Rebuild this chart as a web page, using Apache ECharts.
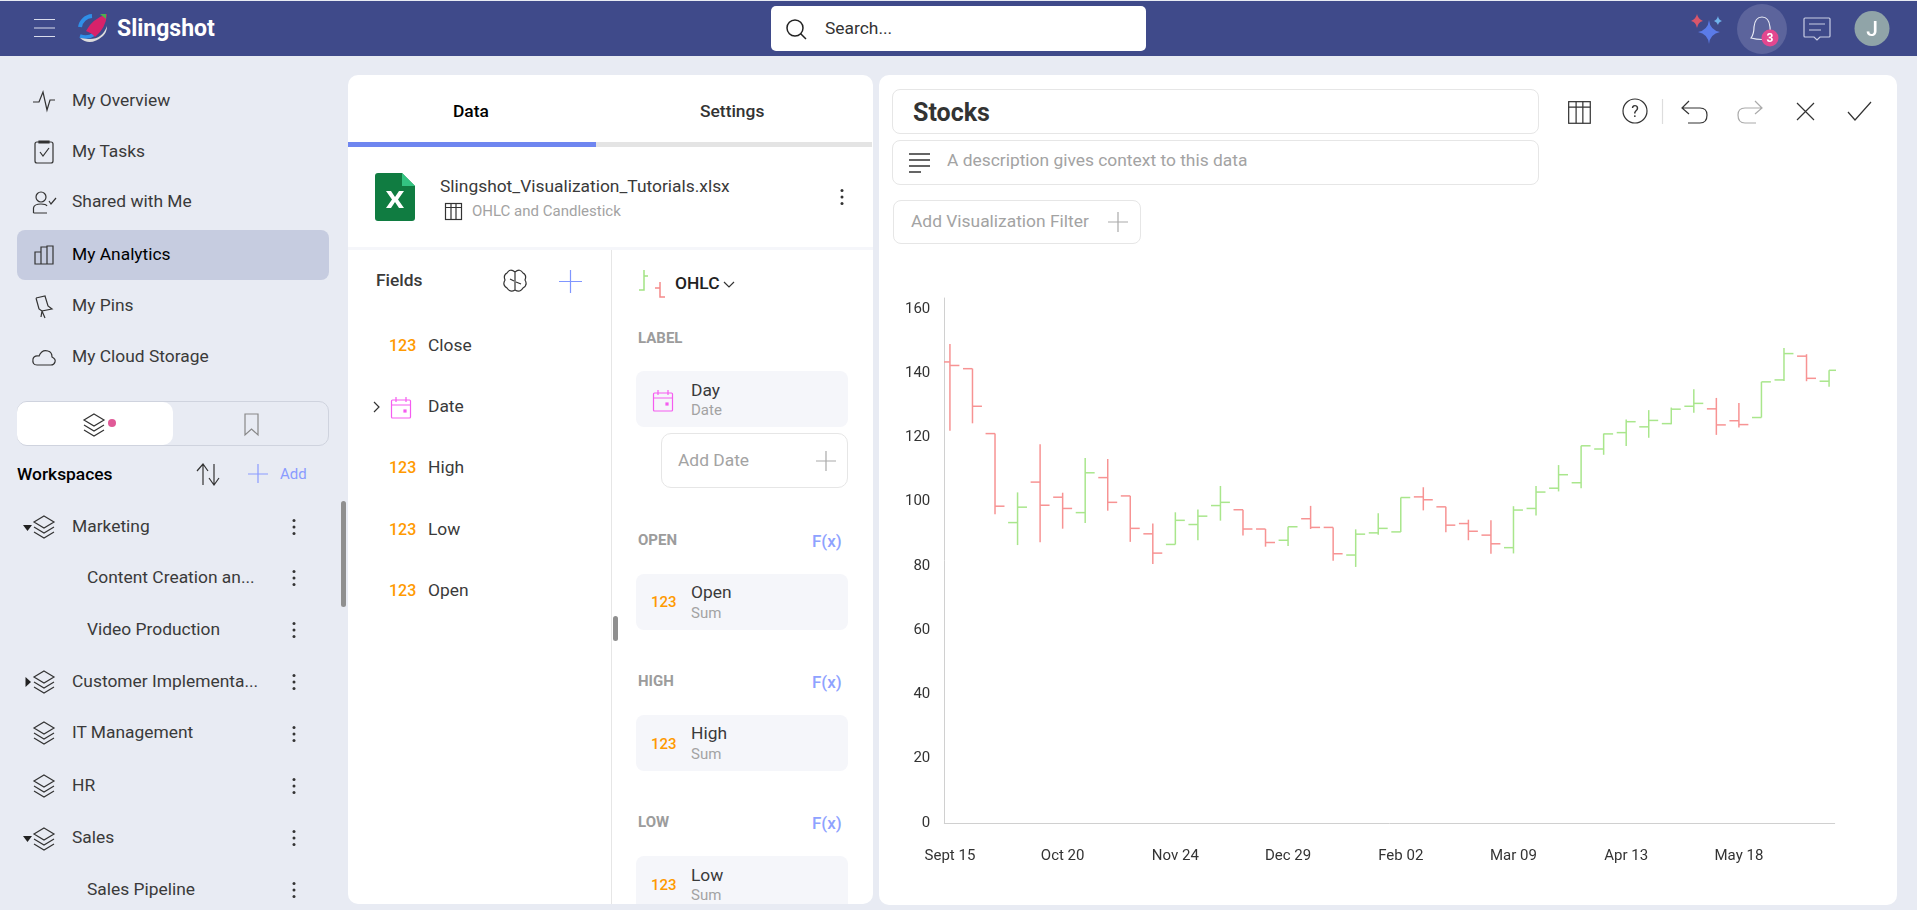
<!DOCTYPE html>
<html>
<head>
<meta charset="utf-8">
<title>Stocks</title>
<script src="https://cdn.jsdelivr.net/npm/echarts@6/dist/echarts.min.js"></script>
<style>
html, body { margin: 0; padding: 0; width: 1917px; height: 910px; overflow: hidden; background: #e8ebf3; }
body { position: relative; font-family: Roboto, sans-serif; font-size: 17.4px; color: #3a3a3a; }
.box { position: absolute; box-sizing: border-box; }
.t { position: absolute; white-space: nowrap; transform: translateY(-50%); line-height: 1; }
.m { font-weight: 500; }
.g { color: #a3a3a3; }
.s { font-size: 15px; }
.n { color: #ff9a00; font-weight: 500; font-size: 16px; }
.cap { color: #9c9c9c; font-weight: 700; font-size: 15px; }
.fx { color: #8ea2ff; font-weight: 500; font-size: 17px; }
.field { background: #f5f6fa; border-radius: 8px; left: 636px; width: 212px; }
.input { border: 1px solid #e6e6e6; border-radius: 8px; background: #fff; }
svg { position: absolute; left: 0; top: 0; pointer-events: none; }
#chart { position: absolute; left: 880px; top: 250px; width: 1000px; height: 650px; }
</style>
</head>
<body>

<div class="box" style="left:0;top:1px;width:1917px;height:55px;background:#3f4a8a"></div>
<div class="box" style="left:771px;top:6px;width:375px;height:45px;background:#fff;border-radius:5px"></div>
<div class="box" style="left:17px;top:230px;width:312px;height:50px;background:#c6cce0;border-radius:8px"></div>
<div class="box" style="left:17px;top:401px;width:312px;height:45px;border:1px solid #cfd3de;border-radius:10px"></div>
<div class="box" style="left:17px;top:402px;width:156px;height:43px;background:#fff;border-radius:10px"></div>
<div class="box" style="left:341px;top:501px;width:5px;height:106px;background:#8f8f8f;border-radius:3px"></div>

<div class="box" style="left:348px;top:75px;width:525px;height:829px;background:#fff;border-radius:10px"></div>
<div class="box" style="left:348px;top:142px;width:524px;height:5px;background:#e4e4e4"></div>
<div class="box" style="left:348px;top:142px;width:248px;height:5px;background:#6f86f0"></div>
<div class="box" style="left:348px;top:247px;width:525px;height:3px;background:#f5f6fa"></div>
<div class="box" style="left:611px;top:250px;width:1px;height:654px;background:#e6e6e6"></div>
<div class="box" style="left:613px;top:616px;width:5px;height:25px;background:#8f8f8f;border-radius:3px"></div>
<div class="box field" style="top:371px;height:56px"></div>
<div class="box input" style="left:661px;top:433px;width:187px;height:55px;border-radius:10px"></div>
<div class="box field" style="top:574px;height:56px"></div>
<div class="box field" style="top:715px;height:56px"></div>
<div class="box field" style="top:856px;height:48px;border-radius:8px 8px 0 0"></div>

<div class="box" style="left:879px;top:75px;width:1018px;height:830px;background:#fff;border-radius:10px"></div>
<div class="box input" style="left:892px;top:89px;width:647px;height:45px"></div>
<div class="box input" style="left:892px;top:140px;width:647px;height:45px"></div>
<div class="box input" style="left:893px;top:200px;width:248px;height:44px"></div>

<span class="t" style="left:825px;top:29px;color:#333">Search...</span>
<span class="t" style="left:117px;top:28px;color:#fff;font-size:23px;font-weight:700">Slingshot</span>

<span class="t" style="left:72px;top:101px">My Overview</span>
<span class="t" style="left:72px;top:152px">My Tasks</span>
<span class="t" style="left:72px;top:202px">Shared with Me</span>
<span class="t" style="left:72px;top:255px;color:#000">My Analytics</span>
<span class="t" style="left:72px;top:306px">My Pins</span>
<span class="t" style="left:72px;top:357px">My Cloud Storage</span>

<span class="t m" style="left:17px;top:475px;color:#000">Workspaces</span>
<span class="t s" style="left:280px;top:474px;color:#8a9bff">Add</span>
<span class="t" style="left:72px;top:527px">Marketing</span>
<span class="t" style="left:87px;top:578px">Content Creation an...</span>
<span class="t" style="left:87px;top:630px">Video Production</span>
<span class="t" style="left:72px;top:682px">Customer Implementa...</span>
<span class="t" style="left:72px;top:733px">IT Management</span>
<span class="t" style="left:72px;top:786px">HR</span>
<span class="t" style="left:72px;top:838px">Sales</span>
<span class="t" style="left:87px;top:890px">Sales Pipeline</span>

<span class="t m" style="left:453px;top:112px;color:#000">Data</span>
<span class="t m" style="left:700px;top:112px;color:#333">Settings</span>
<span class="t" style="left:440px;top:187px">Slingshot_Visualization_Tutorials.xlsx</span>
<span class="t s g" style="left:472px;top:211px">OHLC and Candlestick</span>
<span class="t m" style="left:376px;top:281px">Fields</span>
<span class="t n" style="left:389px;top:346px">123</span><span class="t" style="left:428px;top:346px">Close</span>
<span class="t" style="left:428px;top:407px">Date</span>
<span class="t n" style="left:389px;top:468px">123</span><span class="t" style="left:428px;top:468px">High</span>
<span class="t n" style="left:389px;top:530px">123</span><span class="t" style="left:428px;top:530px">Low</span>
<span class="t n" style="left:389px;top:591px">123</span><span class="t" style="left:428px;top:591px">Open</span>

<span class="t m" style="left:675px;top:284px;color:#222">OHLC</span>
<span class="t cap" style="left:638px;top:338px">LABEL</span>
<span class="t" style="left:691px;top:391px">Day</span>
<span class="t s g" style="left:691px;top:410px">Date</span>
<span class="t g" style="left:678px;top:461px">Add Date</span>
<span class="t cap" style="left:638px;top:540px">OPEN</span><span class="t fx" style="left:812px;top:541px">F(x)</span>
<span class="t n" style="left:651px;top:602px;font-size:15px">123</span><span class="t" style="left:691px;top:593px">Open</span><span class="t s g" style="left:691px;top:613px">Sum</span>
<span class="t cap" style="left:638px;top:681px">HIGH</span><span class="t fx" style="left:812px;top:682px">F(x)</span>
<span class="t n" style="left:651px;top:744px;font-size:15px">123</span><span class="t" style="left:691px;top:734px">High</span><span class="t s g" style="left:691px;top:754px">Sum</span>
<span class="t cap" style="left:638px;top:822px">LOW</span><span class="t fx" style="left:812px;top:823px">F(x)</span>
<span class="t n" style="left:651px;top:885px;font-size:15px">123</span><span class="t" style="left:691px;top:876px">Low</span><span class="t s g" style="left:691px;top:895px">Sum</span>

<span class="t" style="left:913px;top:112px;font-size:25px;font-weight:700;color:#333">Stocks</span>
<span class="t g" style="left:947px;top:161px">A description gives context to this data</span>
<span class="t g" style="left:911px;top:222px">Add Visualization Filter</span>

<div id="chart"></div>

<svg width="1917" height="910" viewBox="0 0 1917 910" fill="none" stroke="#333" stroke-width="1.2">
  <defs>
    <g id="layers"><path d="M11 0L21 6L11 12L1 6Z M1 11L11 17L21 11 M1 16L11 22L21 16"/></g>
    <g id="dots" fill="#333" stroke="none"><circle cx="0" cy="-6.5" r="1.5"/><circle cx="0" cy="0" r="1.5"/><circle cx="0" cy="6.5" r="1.5"/></g>
    <g id="cal" stroke="#f55cf0"><rect x="0.5" y="3" width="19" height="18" rx="1"/><path d="M0.5 8H19.5M5 0V5M15 0V5"/><rect x="13" y="13" width="2" height="2" fill="#f55cf0"/></g>
    <g id="grid"><rect x="0.5" y="0.5" width="16" height="16"/><path d="M0.5 4.5H16.5M6 0.5V16.5M11 0.5V16.5"/></g>
  </defs>

  <!-- top bar -->
  <path d="M34 19.5H55M34 28H55M34 36.5H55" stroke="#d9dcec"/>
  <path d="M92 16A13 13 0 0 0 80 27" stroke="#2f8fe8" stroke-width="4"/>
  <path d="M80 36Q92 40 100 28" stroke="#2f8fe8" stroke-width="3.500"/>
  <path d="M80 38Q90 47 103 36Q107 32 107 26Q102 40 88 39Z" fill="#dcdcdc" stroke="none"/>
  <path d="M86 31Q92 19 107 14Q106 28 95 37Q92 33 86 31Z" fill="#d8226a" stroke="none"/>
  <path d="M100 14L106 14L106 19Z" fill="#4caf50" stroke="none"/>
  <circle cx="799" cy="28" r="8" stroke="#222" stroke-width="1.5" transform="translate(-4 0)"/><path d="M800.500 33.500L806 39" stroke="#222" stroke-width="1.5"/>
  <path d="M1709 20Q1710 30 1720 32Q1710 34 1709 44Q1708 34 1698 32Q1708 30 1709 20Z" fill="#5b7be8" stroke="none"/>
  <path d="M1697 14Q1698 19 1703 21Q1698 22 1697 28Q1696 22 1691 21Q1696 19 1697 14Z" fill="#d9566a" stroke="none"/>
  <path d="M1718 16Q1718.500 20 1722 21Q1718.500 22 1718 25Q1717 22 1714 21Q1717 20 1718 16Z" fill="#6fb2ea" stroke="none"/>
  <circle cx="1762" cy="29" r="25" fill="#5c649c" stroke="none"/>
  <path d="M1751 38Q1754 34 1754 27Q1755 17 1762 17Q1769 17 1770 27Q1770 34 1773 38Q1762 41 1751 38Z" stroke="#e8eaf4"/>
  <circle cx="1770" cy="38" r="8.500" fill="#e2478f" stroke="none"/>
  <text x="1770" y="42" text-anchor="middle" font-family="Roboto" font-size="12" font-weight="700" fill="#fff" stroke="none">3</text>
  <path d="M1805 18H1829Q1830 18 1830 19V36Q1830 37 1829 37H1820L1817 40L1814 37H1805Q1804 37 1804 36V19Q1804 18 1805 18Z" stroke="#c9cde4"/>
  <path d="M1809 24H1825M1809 30H1821" stroke="#c9cde4"/>
  <circle cx="1872" cy="28.500" r="17.500" fill="#90a4a8" stroke="none"/>
  <text x="1872" y="36" text-anchor="middle" font-family="Roboto" font-size="21" font-weight="500" fill="#fff" stroke="none">J</text>

  <!-- side nav -->
  <path d="M33 102H39L43 92L47 110L50 100H55"/>
  <rect x="35" y="142" width="18" height="21" rx="2"/><path d="M39 141H49V143H39Z" fill="#333"/><path d="M40 152L43 156L49 148"/>
  <circle cx="41" cy="197" r="5"/><path d="M33.500 213V208Q34 204 41 204Q46 204 47 206M33.500 213H47"/><path d="M49 201L51 204L56 198"/>
  <path d="M35 264V252H41V264ZM41 264V247H47M47 264V246H53V264ZM35 264H53"/>
  <path d="M36 298L45 296L48 306L52 309L42 311L41 317M36 298L39 309L42 311M45 318L42 311"/>
  <path d="M37 365Q32 365 33 359Q34 355 39 356Q42 349 48 351Q52 352 52 357Q56 359 55 362Q54 365 51 365Z"/>
  <use href="#layers" x="83" y="414"/>
  <circle cx="112" cy="423" r="4" fill="#e05a97" stroke="none"/>
  <path d="M245 414H258V435L251.500 429L245 435Z" stroke="#888"/>
  <path d="M203 485V465M197 471L203 464L208 471M214 464V484M209 478L214 485L219 478"/>
  <path d="M248 474H268M258 464V483" stroke="#8a9bff"/>
  <use href="#layers" x="33" y="516"/><path d="M23 525H32L27.500 531Z" fill="#222" stroke="none"/>
  <use href="#layers" x="33" y="671"/><path d="M25.500 677V687L31 682Z" fill="#222" stroke="none"/>
  <use href="#layers" x="33" y="722"/>
  <use href="#layers" x="33" y="775"/>
  <use href="#layers" x="33" y="828"/><path d="M23 836H32L27.500 842Z" fill="#222" stroke="none"/>
  <use href="#dots" x="294" y="527"/><use href="#dots" x="294" y="578"/><use href="#dots" x="294" y="630"/>
  <use href="#dots" x="294" y="682"/><use href="#dots" x="294" y="734"/><use href="#dots" x="294" y="786"/>
  <use href="#dots" x="294" y="838"/><use href="#dots" x="294" y="890"/>

  <!-- data panel -->
  <path d="M378 173H402L415 186V218Q415 221 412 221H378Q375 221 375 218V176Q375 173 378 173Z" fill="#107c41" stroke="none"/>
  <path d="M402 173L415 186H402Z" fill="#33c481" stroke="none"/>
  <path d="M386 191H391L395 197L399 191H404L398 199.500L404 208H399L395 202L391 208H386L392 199.500Z" fill="#fff" stroke="none"/>
  <use href="#grid" x="445" y="203"/>
  <use href="#dots" x="842" y="197"/>
  <path d="M515 272Q510 268 507 273Q503 275 505 280Q502 285 507 288Q510 293 515 290Q520 293 523 288Q528 285 525 280Q527 275 523 273Q520 268 515 272ZM515 272V290M510 279L514 281M521 284L516 282"/>
  <path d="M559 281.500H582M570.500 270V293" stroke="#8096ff"/>
  <path d="M374 402L379 407L374 412"/>
  <use href="#cal" x="391" y="397"/>
  <path d="M644 270V290H639M644 276H648" stroke="#a3e384" stroke-width="1.500"/>
  <path d="M660 282V297H665M660 288H655" stroke="#f58a8a" stroke-width="1.500"/>
  <path d="M724 282L729 287L734 282"/>
  <use href="#cal" x="653" y="390"/>
  <path d="M816 461H836M826 451V471" stroke="#aaa"/>

  <!-- chart toolbar -->
  <use href="#grid" transform="translate(1568 101) scale(1.350)" stroke-width="0.900"/>
  <circle cx="1635" cy="111" r="12"/>
  <text x="1635" y="117" text-anchor="middle" font-family="Roboto" font-size="16" fill="#333" stroke="none">?</text>
  <path d="M1662.500 99V124" stroke="#ddd"/>
  <path d="M1689 101L1682 108L1689 114M1682 108H1700Q1707 108 1707 115Q1707 123 1700 123H1688"/>
  <path d="M1755 101L1762 108L1755 114M1762 108H1745Q1738 108 1738 115Q1738 123 1745 123H1756" stroke="#aaa"/>
  <path d="M1797 103L1814 120M1814 103L1797 120"/>
  <path d="M1848 112L1855 120L1871 102"/>
  <path d="M909 154H930M909 160H930M909 166H930M909 172H921" stroke-width="1.400"/>
  <path d="M1108 222H1128M1118 212V232" stroke="#aaa"/>
</svg>

<script>
// weekly dates, only every 5th one is printed on the axis
const dates = [
    'Sept 15', 'Sept 22', 'Sept 29', 'Oct 06', 'Oct 13', 'Oct 20', 'Oct 27', 'Nov 03', 'Nov 10', 'Nov 17',
    'Nov 24', 'Dec 01', 'Dec 08', 'Dec 15', 'Dec 22', 'Dec 29', 'Jan 05', 'Jan 12', 'Jan 19', 'Jan 26',
    'Feb 02', 'Feb 09', 'Feb 16', 'Feb 23', 'Mar 02', 'Mar 09', 'Mar 16', 'Mar 23', 'Mar 30', 'Apr 06',
    'Apr 13', 'Apr 20', 'Apr 27', 'May 04', 'May 11', 'May 18', 'May 25', 'Jun 01', 'Jun 08', 'Jun 15'
];
const open = [
    143.5, 141.4, 121.2, 93.5, 106.1, 101.4, 96.6, 107.5, 101.8, 90.0,
    86.7, 92.9, 98.8, 97.5, 91.5, 88.0, 94.7, 92.0, 83.4, 90.3,
    90.6, 101.5, 98.4, 93.2, 89.6, 85.7, 97.9, 104.2, 105.9, 116.4,
    121.5, 123.3, 124.3, 129.7, 128.9, 125.2, 126.2, 137.9, 145.3, 137.5
];
const high = [
    149.1, 141.4, 121.2, 102.9, 117.9, 102.8, 113.6, 113.3, 101.8, 93.2,
    96.7, 97.6, 104.9, 97.5, 91.5, 92.2, 98.7, 92.0, 91.4, 96.4,
    101.3, 104.5, 98.4, 94.4, 94.2, 98.6, 104.9, 111.4, 117.4, 121.2,
    125.6, 128.5, 129.3, 135.0, 132.3, 130.7, 137.3, 147.8, 145.9, 140.9
];
const low = [
    122.1, 124.4, 96.1, 86.5, 87.4, 91.6, 93.4, 97.2, 87.5, 80.6,
    86.7, 88.0, 94.1, 89.5, 86.0, 86.2, 91.5, 81.6, 79.7, 89.7,
    90.6, 97.3, 90.5, 88.0, 83.8, 83.9, 95.7, 103.2, 104.2, 114.6,
    117.3, 119.9, 124.1, 127.7, 120.8, 123.1, 126.2, 137.6, 137.5, 135.8
];
const close = [
    142.4, 129.7, 98.6, 98.3, 98.9, 97.9, 109.0, 99.8, 91.7, 84.0,
    94.2, 95.5, 99.8, 91.5, 87.3, 92.2, 92.0, 83.8, 89.9, 91.7,
    101.3, 100.6, 92.7, 90.8, 86.9, 97.4, 103.0, 108.4, 117.4, 121.1,
    124.9, 125.3, 128.8, 130.6, 123.9, 124.0, 137.3, 146.1, 138.4, 140.9
];
const tickIndexes = [0, 5, 10, 15, 20, 25, 30, 35];

const upColor = '#a9e68c';
const downColor = '#f79393';

const renderOhlc = (params, api) => {
    const i = api.value(0);
    const color = api.value(4) >= api.value(1) ? upColor : downColor;
    const tick = api.size([1, 0])[0] * 0.42;
    const o = api.coord([i, api.value(1)]);
    const h = api.coord([i, api.value(2)]);
    const l = api.coord([i, api.value(3)]);
    const c = api.coord([i, api.value(4)]);
    const style = {stroke: color, lineWidth: 1.5};
    return {
        type: 'group',
        children: [
            {type: 'line', shape: {x1: h[0], y1: h[1], x2: l[0], y2: l[1]}, style: style},
            {type: 'line', shape: {x1: o[0] - tick, y1: o[1], x2: o[0], y2: o[1]}, style: style},
            {type: 'line', shape: {x1: c[0], y1: c[1], x2: c[0] + tick, y2: c[1]}, style: style}
        ]
    };
};

const myChart = echarts.init(document.getElementById('chart'));
myChart.setOption({
    animation: false,
    textStyle: {fontFamily: 'Roboto'},
    grid: {left: 64.3, right: 45.3, top: 48, height: 525},
    xAxis: {
        type: 'value',
        min: -0.25,
        max: 39.25,
        splitLine: {show: false},
        axisLine: {show: true, onZero: false, lineStyle: {color: '#d0d0d0'}},
        axisTick: {show: false},
        axisLabel: {
            customValues: tickIndexes,
            formatter: value => dates[value],
            color: '#333',
            fontSize: 15,
            margin: 26
        }
    },
    yAxis: {
        type: 'value',
        min: 0,
        max: 163.4,
        interval: 20,
        splitLine: {show: false},
        axisLine: {show: true, onZero: false, lineStyle: {color: '#d0d0d0'}},
        axisTick: {show: false},
        axisLabel: {showMaxLabel: false, color: '#333', fontSize: 15, margin: 14}
    },
    series: [{
        type: 'custom',
        clip: true,
        renderItem: renderOhlc,
        encode: {x: 0, y: [1, 2, 3, 4]},
        data: dates.map((d, i) => [i, open[i], high[i], low[i], close[i]])
    }]
});
</script>
</body>
</html>
